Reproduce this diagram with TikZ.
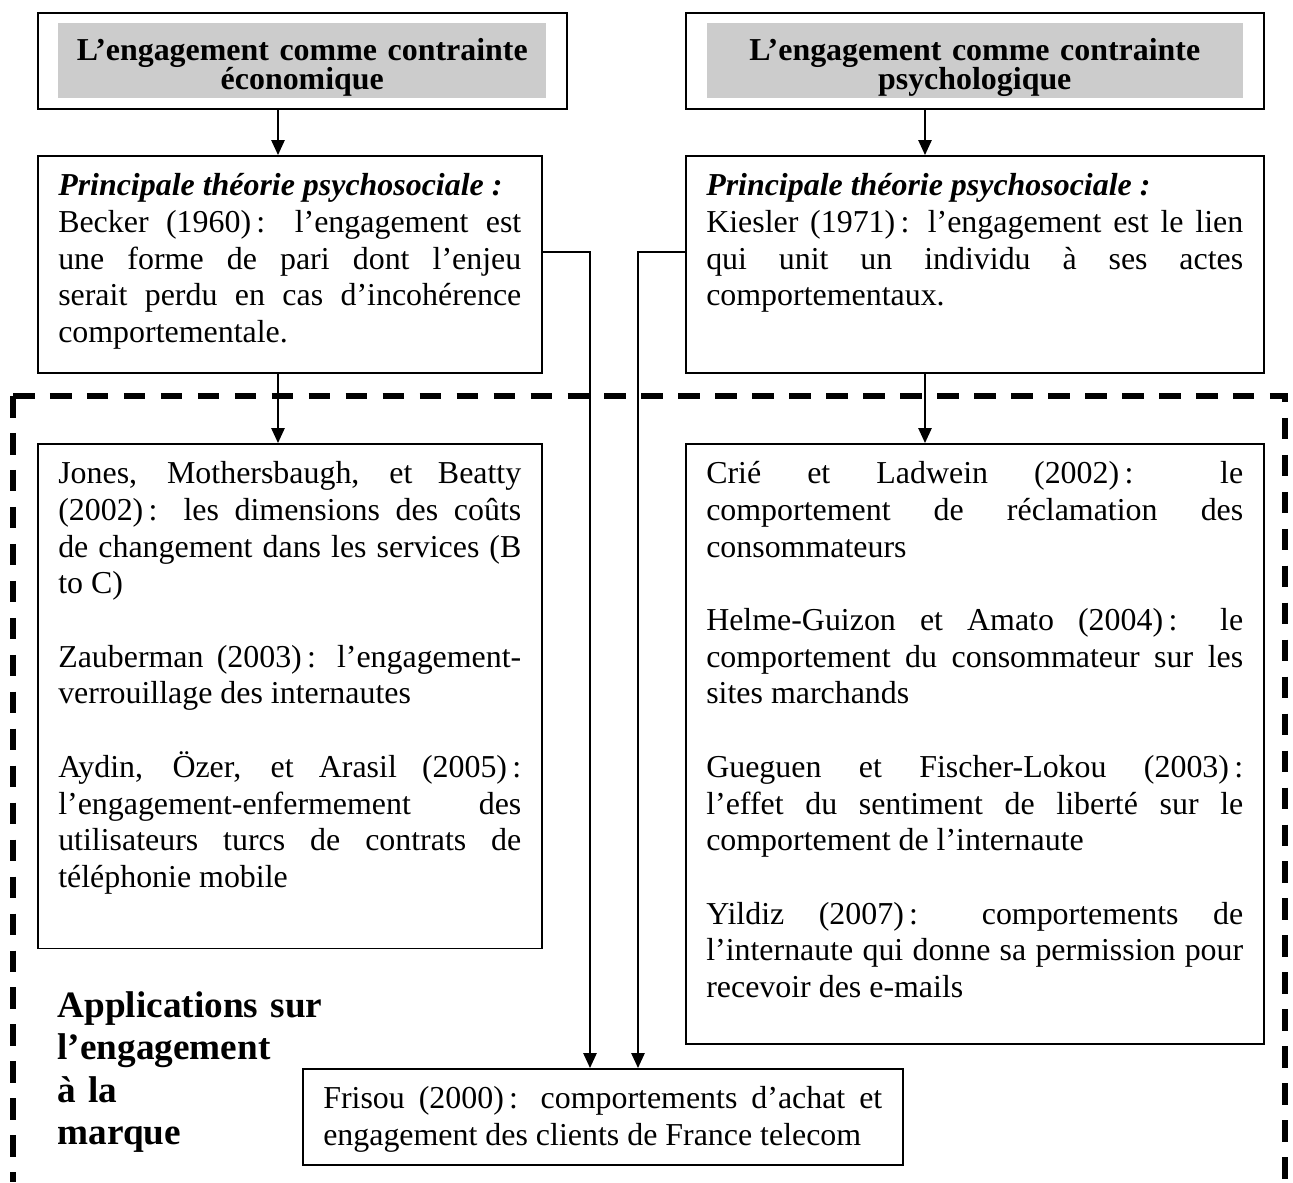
\documentclass[tikz,border=0pt]{standalone}
\usepackage{fontspec}
\setmainfont{Liberation Serif}
\usetikzlibrary{arrows.meta}
\tolerance=10000 \hbadness=10000 \hyphenpenalty=10000
\newcommand{\blankrow}{\par\vspace{\baselineskip}}

\begin{document}
\begin{tikzpicture}[x=0.376pt, y=-0.376pt,
    hdr/.style={draw, line width=0.6pt, anchor=north west, inner sep=0pt, minimum height=36.1pt},
    shadebox/.style={fill=black!20, inner sep=0pt, align=center, text height=13.9pt, text depth=14.3pt,
      font={\bfseries\fontsize{12}{11}\selectfont\lineskiplimit=-10pt}},
    txtbox/.style={draw, line width=0.6pt, anchor=north west, align=justify, inner xsep=7.7pt,
      inner ysep=0pt, text height=15pt, font=\fontsize{12}{13.8}\selectfont},
    arr/.style={-{Triangle[width=5pt,length=5.6pt]}, line width=0.6pt},
    cadre/.style={line width=1.9pt, dash pattern=on 8.1pt off 5.8pt}]
    \useasboundingbox (0,0) rectangle (1293,1182);

    % Draw headers
    \node[hdr, minimum width=198.9pt] (eco) at (37,12) {};
    \node[shadebox, text width=183.5pt] (ecoT) at (eco.center) {L’engagement comme contrainte\\économique};
    \node[hdr, minimum width=217.3pt] (psy) at (685,12) {};
    \node[shadebox, text width=201.5pt] (psyT) at (psy.center) {L’engagement comme contrainte\\psychologique};

    \node[txtbox, text width=174.1pt, text depth=66.6pt] (becker) at (37,155)
      {\textbf{\textit{Principale théorie psychosociale :}}\\
       Becker (1960)\,: l’engagement est\linebreak une forme de pari dont l’enjeu\linebreak
       serait perdu en cas d’incohérence\linebreak comportementale.};
    \node[txtbox, text width=201.9pt, text depth=66.6pt] (kiesler) at (685,155)
      {\textbf{\textit{Principale théorie psychosociale :}}\\
       Kiesler (1971)\,: l’engagement est le lien\linebreak qui unit un individu à ses actes\linebreak
       comportementaux.};

    \node[txtbox, text width=174.1pt, text depth=174.8pt] (jones) at (37,443)
      {Jones, Mothersbaugh, et Beatty\linebreak (2002)\,: les dimensions des coûts\linebreak
       de changement dans les services (B\linebreak to C)\blankrow
       Zauberman (2003)\,: l’engagement-\linebreak verrouillage des internautes\blankrow
       Aydin, Özer, et Arasil (2005)\,:\linebreak l’engagement-enfermement des\linebreak
       utilisateurs turcs de contrats de\linebreak téléphonie mobile};
    \node[txtbox, text width=201.9pt, text depth=210.6pt] (crie) at (685,443)
      {Crié et Ladwein (2002)\,: le\linebreak comportement de réclamation des\linebreak
       consommateurs\blankrow
       Helme-Guizon et Amato (2004)\,: le\linebreak comportement du consommateur sur les\linebreak
       sites marchands\blankrow
       Gueguen et Fischer-Lokou (2003)\,:\linebreak l’effet du sentiment de liberté sur le\linebreak
       comportement de l’internaute\blankrow
       Yildiz (2007)\,: comportements de\linebreak l’internaute qui donne sa permission pour\linebreak
       recevoir des e-mails};
    \node[txtbox, text width=210.2pt, text depth=21.1pt] (frisou) at (302,1068)
      {Frisou (2000)\,: comportements d’achat et\linebreak engagement des clients de France telecom};

    \node[anchor=base west, text width=110pt, align=left, inner sep=0pt,
      font=\bfseries\fontsize{14}{16}\selectfont] (titre) at (57,1017)
      {Applications sur\\l’engagement\\à la\\marque};

    % Connectors
    \coordinate (xL) at (278,0);
    \coordinate (xR) at (925,0);
    \coordinate (xB) at (590,0);
    \coordinate (xK) at (638,0);
    \coordinate (yC) at (0,252);
    \draw[arr] (eco.south -| xL) -- (becker.north -| xL);
    \draw[arr] (becker.south -| xL) -- (jones.north -| xL);
    \draw[arr] (psy.south -| xR) -- (kiesler.north -| xR);
    \draw[arr] (kiesler.south -| xR) -- (crie.north -| xR);
    \draw[arr] (becker.east |- yC) -| (frisou.north -| xB);
    \draw[arr] (kiesler.west |- yC) -| (frisou.north -| xK);

    % Dashed frame
    \draw[cadre] (13,396) -- (13,1182);
    \draw[cadre] (13,396) -- (1285,396) -- (1285,1182);
\end{tikzpicture}
\end{document}
